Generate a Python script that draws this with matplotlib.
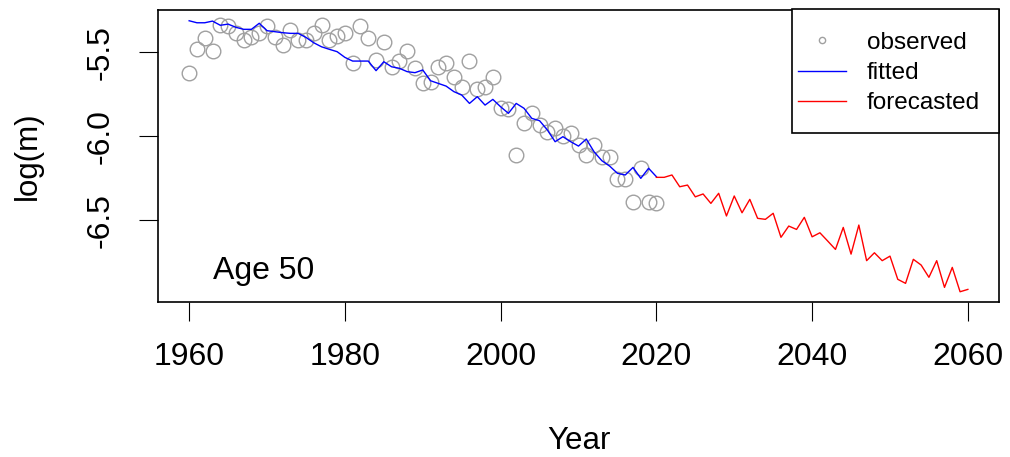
import numpy as np
import matplotlib
matplotlib.use('Agg')
from matplotlib import pyplot as plt
from matplotlib.lines import Line2D
from matplotlib.patches import Rectangle

plt.rcParams['font.family'] = ['Liberation Sans', 'DejaVu Sans']
plt.rcParams['axes.unicode_minus'] = False

# observed log death rates, age 50
obs_years = list(range(1960, 2021))
obs_vals = [-5.621, -5.482, -5.417, -5.492, -5.337, -5.343, -5.387, -5.427, -5.411, -5.387,
            -5.343, -5.407, -5.457, -5.367, -5.427, -5.427, -5.383, -5.337, -5.427, -5.403,
            -5.387, -5.562, -5.343, -5.417, -5.546, -5.437, -5.586, -5.550, -5.490, -5.595,
            -5.685, -5.675, -5.589, -5.562, -5.649, -5.708, -5.550, -5.720, -5.708, -5.649,
            -5.830, -5.839, -6.111, -5.919, -5.863, -5.933, -5.973, -5.949, -5.998, -5.979,
            -6.052, -6.111, -6.052, -6.125, -6.125, -6.256, -6.256, -6.389, -6.190, -6.389,
            -6.395]

# fitted
fit_years = list(range(1960, 2021))
fit_vals = [-5.312, -5.324, -5.324, -5.314, -5.339, -5.332, -5.351, -5.363, -5.363, -5.327,
            -5.371, -5.377, -5.383, -5.387, -5.387, -5.411, -5.443, -5.467, -5.482, -5.496,
            -5.530, -5.552, -5.552, -5.552, -5.609, -5.556, -5.586, -5.595, -5.615, -5.621,
            -5.605, -5.669, -5.685, -5.701, -5.734, -5.754, -5.804, -5.764, -5.814, -5.780,
            -5.824, -5.863, -5.804, -5.833, -5.893, -5.907, -5.962, -6.032, -6.002, -6.032,
            -6.058, -6.016, -6.092, -6.145, -6.177, -6.220, -6.230, -6.185, -6.250, -6.190,
            -6.240]

# forecasted
fc_years = list(range(2020, 2061))
fc_vals = [-6.244, -6.244, -6.230, -6.300, -6.290, -6.360, -6.343, -6.399, -6.339, -6.474,
           -6.355, -6.455, -6.375, -6.488, -6.494, -6.458, -6.601, -6.534, -6.554, -6.482,
           -6.598, -6.574, -6.623, -6.673, -6.542, -6.701, -6.528, -6.740, -6.693, -6.740,
           -6.713, -6.851, -6.875, -6.732, -6.766, -6.839, -6.740, -6.899, -6.780, -6.925,
           -6.911]

xticks = [1960, 1980, 2000, 2020, 2040, 2060]
yticks = [-6.5, -6.0, -5.5]

W, H = 1010., 457.
fig = plt.figure(figsize=(10.1, 4.57), dpi=100)
ax = fig.add_axes([158/W, 1-302/H, (999-158)/W, (302-10)/H])

ax.plot(obs_years, obs_vals, 'o', ms=10.5, mfc='none', mec='#a0a0a0', mew=1.0)
ax.plot(fit_years, fit_vals, color='#0000ff', lw=1.0)
ax.plot(fc_years, fc_vals, color='#ff0000', lw=1.0)

ax.set_xlim(1956, 2064)
ax.set_ylim(-6.986, -5.248)
ax.set_xticks(xticks)
ax.set_yticks(yticks)
ax.set_yticklabels(['%.1f' % v for v in yticks])
ax.tick_params(direction='out', length=13.7, width=0.8, labelsize=23, color='black')
ax.tick_params(axis='x', pad=15)
ax.tick_params(axis='y', pad=17)
plt.setp(ax.get_yticklabels(), rotation=90, va='center')
for s in ax.spines.values():
    s.set_linewidth(1.2)

ax.set_xlabel('Year', fontsize=22.5, va='baseline')
ax.xaxis.set_label_coords(0.5, (8-155)/292.)
ax.set_ylabel('log(m)', fontsize=22.5, va='center')
ax.yaxis.set_label_coords((28-158)/841., 0.5)

ax.text(1969.6, -6.851, 'Age 50', fontsize=23, ha='center', va='baseline')

# legend box drawn by hand (R style: more room top/bottom than at the sides)
box = Rectangle((791.7/W, 1-133/H), (999-791.7)/W, (133-9.3)/H, transform=fig.transFigure,
                facecolor='white', edgecolor='black', lw=1.2, zorder=5)
fig.add_artist(box)

handles = [Line2D([], [], ls='none', marker='o', ms=4.5, mfc='none', mec='#a0a0a0', mew=1.0),
           Line2D([], [], color='#0000ff', lw=1.0),
           Line2D([], [], color='#ff0000', lw=1.0)]
leg = fig.legend(handles, ['observed', 'fitted', 'forecasted'], loc='center left',
                 bbox_to_anchor=(798/W, 1-73/H), fontsize=17.5, frameon=False,
                 borderpad=0, borderaxespad=0, handlelength=1.98, handletextpad=0.85,
                 labelspacing=0.33)
leg.set_zorder(6)

plt.savefig('out.png', dpi=100)
